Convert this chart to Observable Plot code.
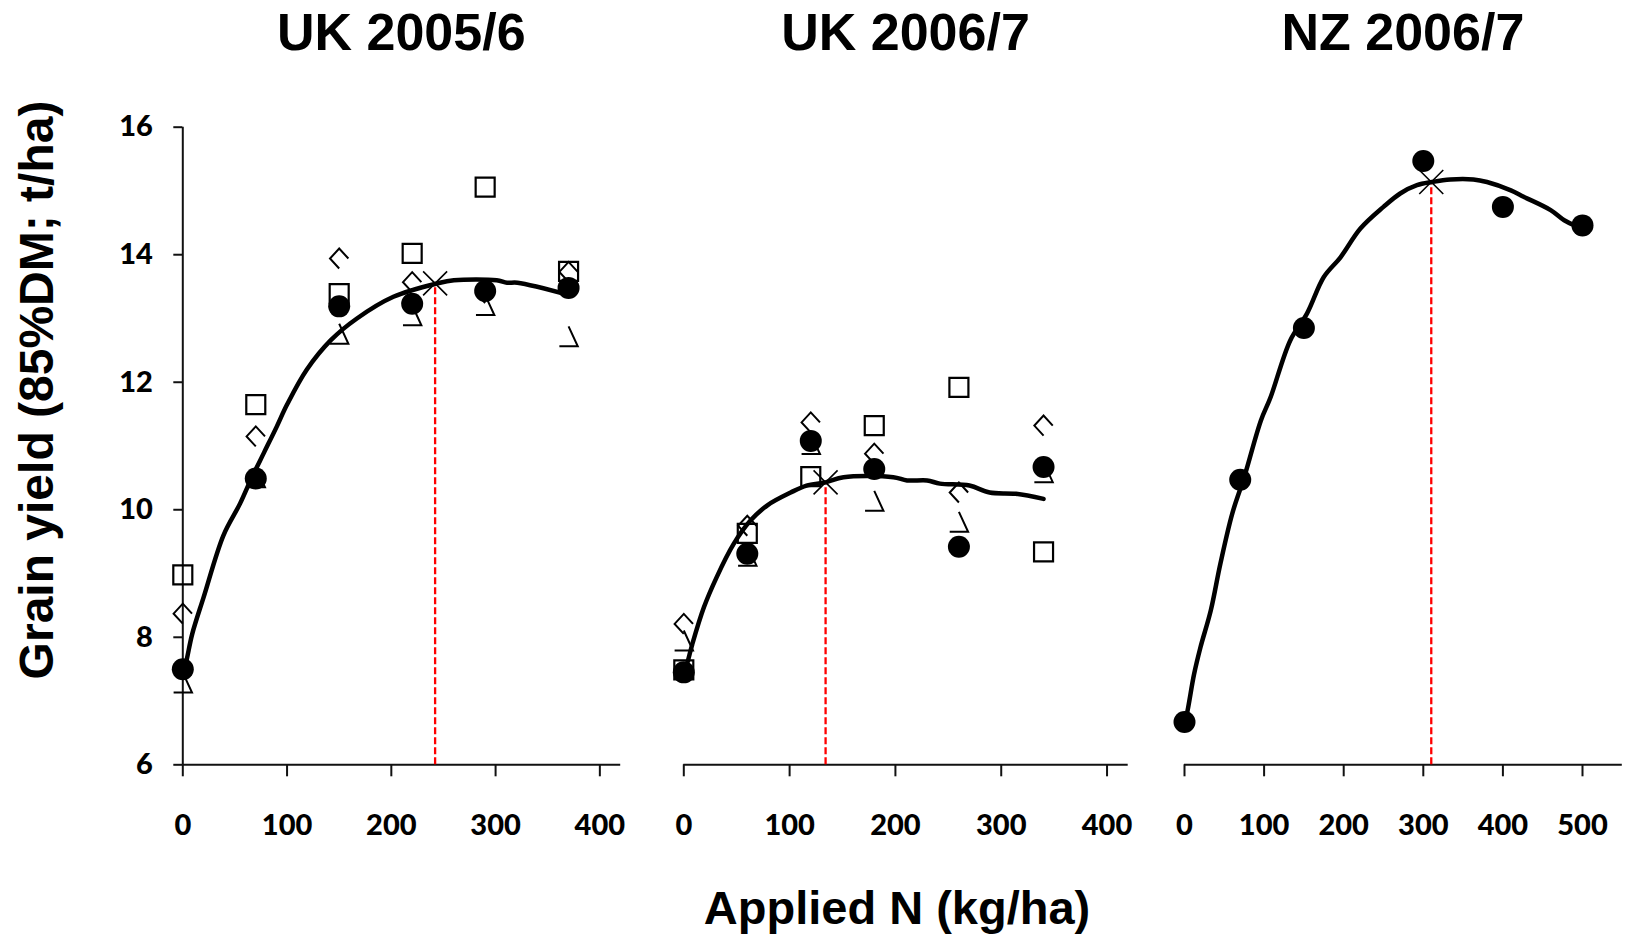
<!DOCTYPE html>
<html><head><meta charset="utf-8">
<script src="https://cdn.jsdelivr.net/npm/d3@7"></script>
<script src="https://cdn.jsdelivr.net/npm/@observablehq/plot@0.6"></script>
<style>
html,body{margin:0;padding:0;background:#fff;}
#chart{position:relative;width:1625px;height:937px;overflow:hidden;color:#000;background:#fff;}
#chart svg{position:absolute;left:0;top:0;background:transparent;}
.lbl{position:absolute;font-family:"Liberation Sans",Arial,sans-serif;font-weight:bold;white-space:nowrap;line-height:1;color:#000;}
</style></head><body><div id="chart"></div>
<script>
// ---------- data ----------
const panelTitles = ["UK 2005/6", "UK 2006/7", "NZ 2006/7"];
const yTicks = [6, 8, 10, 12, 14, 16];
const xTicksUK = [0, 100, 200, 300, 400];
const xTicksNZ = [0, 100, 200, 300, 400, 500];

// UK 2005/6
const nUK1 = [0, 70, 150, 220, 290, 370];
const circleUK1 = [7.50, 10.49, 13.19, 13.23, 13.43, 13.48];
const squareUK1 = [8.98, 11.65, 13.39, 14.02, 15.06, 13.74];
const diamondUK1 = [8.37, 11.15, 13.94, 13.57, 13.40, 13.73];
const triangleUK1 = [7.29, 10.51, 12.76, 13.05, 13.21, 12.72];
const fitNUK1 = [0, 3, 9, 20, 39, 55, 66, 78, 90, 100, 119, 142, 167, 202, 244, 260, 301, 311, 321, 372];
const fitYUK1 = [7.45, 7.6, 8.05, 8.63, 9.6, 10.1, 10.5, 10.9, 11.3, 11.65, 12.2, 12.66, 13.0, 13.34, 13.55, 13.6, 13.6, 13.56, 13.56, 13.36];
const optUK1 = [242, 13.55];

// UK 2006/7
const nUK2 = [0, 60, 120, 180, 260, 340];
const circleUK2 = [7.45, 9.31, 11.08, 10.64, 9.42, 10.67];
const squareUK2 = [7.49, 9.63, 10.52, 11.32, 11.92, 9.34];
const diamondUK2 = [8.21, 9.75, 11.37, 10.88, 10.27, 11.32];
const triangleUK2 = [7.95, 9.28, 11.03, 10.14, 9.81, 10.59];
const fitNUK2 = [0, 3, 8, 19, 31, 47, 63, 79, 101, 116, 134, 151, 198, 211, 230, 242, 270, 289, 314, 340];
const fitYUK2 = [7.45, 7.58, 7.89, 8.47, 8.94, 9.46, 9.83, 10.07, 10.27, 10.38, 10.43, 10.51, 10.51, 10.46, 10.46, 10.41, 10.38, 10.27, 10.25, 10.17];
const optUK2 = [134, 10.43];

// NZ 2006/7
const nNZ = [0, 70, 150, 300, 400, 500];
const circleNZ = [6.67, 10.47, 12.85, 15.47, 14.75, 14.46];
const fitNNZ = [0, 3, 12, 20, 33, 45, 60, 75, 96, 108, 133, 154, 175, 196, 221, 250, 271, 292, 311, 334, 363, 380, 410, 426, 460, 477, 490];
const fitYNZ = [6.67, 6.80, 7.42, 7.84, 8.42, 9.15, 9.94, 10.51, 11.40, 11.76, 12.66, 13.08, 13.65, 13.96, 14.41, 14.75, 14.96, 15.09, 15.14, 15.18, 15.18, 15.14, 15.01, 14.91, 14.70, 14.54, 14.46];
const optNZ = [310, 15.14];

// ---------- custom marker shapes (as they appear in the source) ----------
const rOf = (size) => Math.sqrt(size / Math.PI);
const symSquare = {draw(c, s) { const r = rOf(s); c.moveTo(-r, -r); c.lineTo(r, -r); c.lineTo(r, r); c.lineTo(-r, r); c.closePath(); }};
const symDiamond = {draw(c, s) { const r = rOf(s); const w = r * 0.92; c.moveTo(0, r); c.lineTo(-w, 0); c.lineTo(0, -r); c.lineTo(w, 0); }};
const symTriangle = {draw(c, s) { const r = rOf(s); const w = r * 0.92; c.moveTo(0, -r); c.lineTo(w, r); c.lineTo(-w, r); }};
const symTimes = {draw(c, s) { const r = rOf(s); c.moveTo(-r, -r); c.lineTo(r, r); c.moveTo(-r, r); c.lineTo(r, -r); }};

const pts = (n, v) => n.map((x, i) => ({x, y: v[i]}));

const panels = [
  {title: panelTitles[0], left: 182.3, right: 620.2, xDomain: [0, 420], xTicks: xTicksUK, yAxis: true,
   n: nUK1, circle: circleUK1, square: squareUK1, diamond: diamondUK1, triangle: triangleUK1,
   fitN: fitNUK1, fitY: fitYUK1, opt: optUK1},
  {title: panelTitles[1], left: 683.3, right: 1127.7, xDomain: [0, 420], xTicks: xTicksUK, yAxis: false,
   n: nUK2, circle: circleUK2, square: squareUK2, diamond: diamondUK2, triangle: triangleUK2,
   fitN: fitNUK2, fitY: fitYUK2, opt: optUK2},
  {title: panelTitles[2], left: 1184, right: 1621.8, xDomain: [0, 550], xTicks: xTicksNZ, yAxis: false,
   n: nNZ, circle: circleNZ, square: null, diamond: null, triangle: null,
   fitN: fitNNZ, fitY: fitYNZ, opt: optNZ}
];

const W = 1625, H = 937, TOP = 126.7, BOTTOM = 764.3;
const chart = document.getElementById("chart");
const tickFont = "Lato, 'Open Sans', sans-serif";

for (const p of panels) {
  const marks = [];
  marks.push(Plot.ruleY([6], {stroke: "#111", strokeWidth: 2}));
  if (p.yAxis) {
    marks.push(Plot.ruleX([0], {stroke: "#111", strokeWidth: 2}));
    marks.push(Plot.axisY({ticks: yTicks, tickSize: 9, tickPadding: 21, label: null, tickFormat: d => String(d),
      fontSize: 29, fontWeight: "900", fontFamily: tickFont, stroke: "#111", strokeWidth: 2}));
  }
  marks.push(Plot.axisX({ticks: p.xTicks, tickSize: 12, tickPadding: 38, label: null, tickFormat: d => String(d),
    fontSize: 29, fontWeight: "900", fontFamily: tickFont, stroke: "#111", strokeWidth: 2}));
  // red dashed optimum line
  marks.push(Plot.ruleX([{x: p.opt[0], y: p.opt[1]}], {x: "x", y1: 6, y2: "y", stroke: "#ff0000", strokeWidth: 2.3, strokeDasharray: "7,3"}));
  // fitted curve
  marks.push(Plot.line(pts(p.fitN, p.fitY), {x: "x", y: "y", stroke: "#000", strokeWidth: 4.5, curve: "catmull-rom"}));
  if (p.triangle) marks.push(Plot.dot(pts(p.n, p.triangle), {x: "x", y: "y", symbol: symTriangle, r: 10, fill: "none", stroke: "#000", strokeWidth: 2}));
  if (p.diamond) marks.push(Plot.dot(pts(p.n, p.diamond), {x: "x", y: "y", symbol: symDiamond, r: 10, fill: "none", stroke: "#000", strokeWidth: 2}));
  if (p.square) marks.push(Plot.dot(pts(p.n, p.square), {x: "x", y: "y", symbol: symSquare, r: 9.5, fill: "none", stroke: "#000", strokeWidth: 2.2}));
  marks.push(Plot.dot(pts(p.n, p.circle), {x: "x", y: "y", r: 11, fill: "#000", stroke: "none"}));
  // optimum cross
  marks.push(Plot.dot([{x: p.opt[0], y: p.opt[1]}], {x: "x", y: "y", symbol: symTimes, r: 12, fill: "none", stroke: "#000", strokeWidth: 1.6}));

  const svg = Plot.plot({
    width: W, height: H,
    marginLeft: p.left, marginRight: W - p.right, marginTop: TOP, marginBottom: H - BOTTOM,
    style: {background: "transparent", color: "#000", overflow: "visible"},
    x: {domain: p.xDomain, axis: null},
    y: {domain: [6, 16], axis: null},
    marks
  });
  chart.appendChild(svg);

  const t = document.createElement("div");
  t.className = "lbl";
  t.textContent = p.title;
  t.style.fontSize = "52px";
  t.style.left = ((p.left + p.right) / 2) + "px";
  t.style.top = (50 - 0.8465 * 52) + "px";
  t.style.transform = "translateX(-50%)";
  chart.appendChild(t);
}

const xl = document.createElement("div");
xl.className = "lbl";
xl.textContent = "Applied N (kg/ha)";
xl.style.fontSize = "47px";
xl.style.left = "897px";
xl.style.top = (924 - 0.8465 * 47) + "px";
xl.style.transform = "translateX(-50%)";
chart.appendChild(xl);

const yl = document.createElement("div");
yl.className = "lbl";
yl.textContent = "Grain yield (85%DM; t/ha)";
yl.style.fontSize = "48px";
yl.style.left = "37px";
yl.style.top = "390px";
yl.style.transform = "translate(-50%,-50%) rotate(-90deg)";
chart.appendChild(yl);
</script></body></html>
